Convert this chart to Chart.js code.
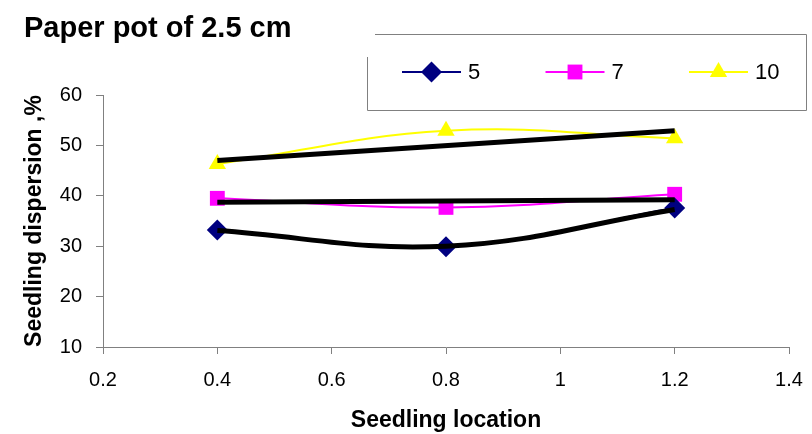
<!DOCTYPE html>
<html>
<head>
<meta charset="utf-8">
<title>Paper pot of 2.5 cm</title>
<script src="https://cdn.jsdelivr.net/npm/chart.js@4/dist/chart.umd.min.js"></script>
<style>
    html, body { margin: 0; padding: 0; background: #fff; }
    #wrap { width: 812px; height: 434px; }
</style>
</head>
<body>
<div id="wrap"><canvas id="chart" width="812" height="434"></canvas></div>
<script>
// Values
const chartTitle = 'Paper pot of 2.5 cm';
const locations = [0.4, 0.8, 1.2];
const seriesNames = ['5', '7', '10'];
const series5 = [33.2, 29.9, 37.6];
const series7 = [39.5, 37.7, 40.3];
const series10 = [46.3, 52.9, 51.4];

// Black trend lines drawn over each series
const trend5 = [33.1, 30.0, 37.3];
const trendLocations = [0.4, 1.2];
const trend7 = [38.7, 39.2];
const trend10 = [47.0, 52.9];

const xTicks = [0.2, 0.4, 0.6, 0.8, 1, 1.2, 1.4];
const yTicks = [10, 20, 30, 40, 50, 60];

const FONT = '"Liberation Sans", Arial, sans-serif';
const AXIS_GREY = '#808080';

function points(xs, ys) {
    return xs.map((x, i) => ({ x: x, y: ys[i] }));
}

function seriesDataset(label, values, color, style, radius) {
    return {
        label: label,
        data: points(locations, values),
        borderColor: color,
        backgroundColor: color,
        borderWidth: 2,
        pointStyle: style,
        pointRadius: radius,
        pointBorderWidth: 0,
        tension: 0.4,
        order: 1
    };
}

function trendDataset(xs, values, tension) {
    return {
        label: 'trend',
        isTrend: true,
        data: points(xs, values),
        borderColor: '#000',
        borderWidth: 5,
        pointRadius: 0,
        tension: tension,
        order: 0
    };
}

/**
 * Title and the boxed legend at the top right
 */
const decorPlugin = {
    id: 'decor',
    afterDraw(chart) {
        const ctx = chart.ctx;
        ctx.save();

        // Title
        ctx.fillStyle = '#000';
        ctx.font = 'bold 29px ' + FONT;
        ctx.textBaseline = 'alphabetic';
        ctx.textAlign = 'left';
        ctx.fillText(chartTitle, 24, 37);

        // Legend frame
        ctx.strokeStyle = AXIS_GREY;
        ctx.lineWidth = 1;
        ctx.beginPath();
        ctx.moveTo(375, 34.5);
        ctx.lineTo(806.5, 34.5);
        ctx.lineTo(806.5, 110.5);
        ctx.lineTo(367.5, 110.5);
        ctx.lineTo(367.5, 57);
        ctx.stroke();

        // Legend items
        const items = chart.data.datasets.filter(ds => !ds.isTrend);
        const startX = 402;
        const stepX = 143.5;
        const y = 72;
        items.forEach((ds, i) => {
            const x0 = startX + i * stepX;
            ctx.strokeStyle = ds.borderColor;
            ctx.fillStyle = ds.backgroundColor;
            ctx.lineWidth = 2;
            ctx.beginPath();
            ctx.moveTo(x0, y);
            ctx.lineTo(x0 + 59, y);
            ctx.stroke();
            Chart.helpers.drawPoint(ctx, {
                pointStyle: ds.pointStyle,
                radius: ds.pointRadius,
                borderWidth: 0,
                rotation: 0
            }, x0 + 29.5, y);
            ctx.fillStyle = '#000';
            ctx.font = '22px ' + FONT;
            ctx.textBaseline = 'middle';
            ctx.fillText(ds.label, x0 + 66, y + 1);
        });

        ctx.restore();
    }
};

const ctx = document.getElementById('chart').getContext('2d');
new Chart(ctx, {
    type: 'line',
    data: {
        datasets: [
            trendDataset(locations, trend5, 0.4),
            trendDataset(trendLocations, trend7, 0),
            trendDataset(trendLocations, trend10, 0),
            seriesDataset(seriesNames[0], series5, '#000080', 'rectRot', 10.5),
            seriesDataset(seriesNames[1], series7, '#FF00FF', 'rect', 10.5),
            seriesDataset(seriesNames[2], series10, '#FFFF00', 'triangle', 10)
        ]
    },
    options: {
        responsive: false,
        animation: false,
        devicePixelRatio: 1,
        layout: {
            autoPadding: false,
            padding: { left: 0, top: 95, right: 23, bottom: 0 }
        },
        plugins: {
            legend: { display: false },
            title: { display: false },
            tooltip: { enabled: false }
        },
        scales: {
            x: {
                type: 'linear',
                min: 0.2,
                max: 1.4,
                afterBuildTicks: scale => {
                    scale.ticks = xTicks.map(v => ({ value: v }));
                },
                afterFit: scale => {
                    scale.height = 87;
                    scale.paddingLeft = 0;
                    scale.paddingRight = 0;
                },
                border: { color: AXIS_GREY, width: 1 },
                grid: {
                    drawOnChartArea: false,
                    drawTicks: true,
                    tickLength: 7,
                    color: AXIS_GREY
                },
                ticks: {
                    color: '#000',
                    font: { family: FONT, size: 20 },
                    padding: 14,
                    maxRotation: 0,
                    callback: v => String(parseFloat(Number(v).toFixed(1)))
                },
                title: {
                    display: true,
                    text: 'Seedling location',
                    color: '#000',
                    font: { family: FONT, size: 23, weight: 'bold' },
                    padding: { top: 0, bottom: 0 }
                }
            },
            y: {
                min: 10,
                max: 60,
                afterBuildTicks: scale => {
                    scale.ticks = yTicks.map(v => ({ value: v }));
                },
                afterFit: scale => { scale.width = 103; },
                border: { color: AXIS_GREY, width: 1 },
                grid: {
                    drawOnChartArea: false,
                    drawTicks: true,
                    tickLength: 7,
                    color: AXIS_GREY
                },
                ticks: {
                    color: '#000',
                    font: { family: FONT, size: 20 },
                    padding: 14
                },
                title: {
                    display: true,
                    text: 'Seedling dispersion ,%',
                    color: '#000',
                    font: { family: FONT, size: 23, weight: 'bold' },
                    padding: { top: 21, bottom: 0 }
                }
            }
        }
    },
    plugins: [decorPlugin]
});
</script>
</body>
</html>
